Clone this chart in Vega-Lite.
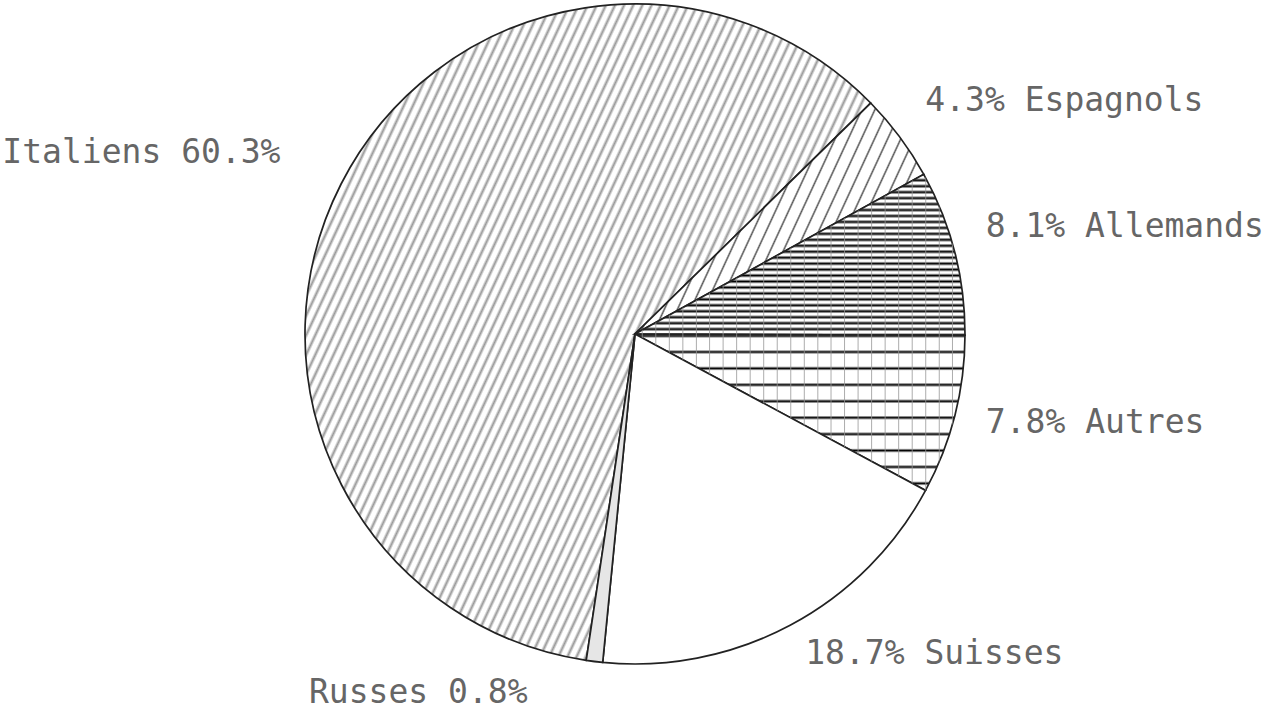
{
"$schema": "https://vega.github.io/schema/vega-lite/v6.json",
"width": 1270,
"height": 668,
"autosize": {"type": "none"},
"padding": {"left": 0, "top": 0, "right": 4, "bottom": 48},
"background": "white",
"config": {"view": {"stroke": null}},
"data": {"values": [
{"k": 1, "cat": "Italiens", "pct": 60.3, "label": "Italiens 60.3%"},
{"k": 2, "cat": "Espagnols", "pct": 4.3, "label": "4.3% Espagnols"},
{"k": 3, "cat": "Allemands", "pct": 8.1, "label": "8.1% Allemands"},
{"k": 4, "cat": "Autres", "pct": 7.8, "label": "7.8% Autres"},
{"k": 5, "cat": "Suisses", "pct": 18.7, "label": "18.7% Suisses"},
{"k": 6, "cat": "Russes", "pct": 0.8, "label": "Russes 0.8%"}
]},
"encoding": {
"theta": {"field": "pct", "type": "quantitative", "stack": true, "scale": {"domain": [0, 100], "range": [3.2899, 9.5731]}},
"order": {"field": "k", "type": "quantitative"}
},
"layer": [
{"mark": {"type": "arc", "outerRadius": 330, "stroke": "#222", "strokeWidth": 1.7},
"encoding": {"fill": {"condition": [
{"test": "datum.cat==='Italiens'", "value": {"gradient": "linear", "x1": 0, "y1": 0, "x2": 1, "y2": 0.54, "stops": [
{"offset":0,"color":"#999"},{"offset":0.0035,"color":"#fff"},{"offset":0.009,"color":"#fff"},
{"offset":0.0125,"color":"#999"},{"offset":0.016,"color":"#fff"},{"offset":0.0215,"color":"#fff"},
{"offset":0.025,"color":"#999"},{"offset":0.0285,"color":"#fff"},{"offset":0.034,"color":"#fff"},
{"offset":0.0375,"color":"#999"},{"offset":0.041,"color":"#fff"},{"offset":0.0465,"color":"#fff"},
{"offset":0.05,"color":"#999"},{"offset":0.0535,"color":"#fff"},{"offset":0.059,"color":"#fff"},
{"offset":0.0625,"color":"#999"},{"offset":0.066,"color":"#fff"},{"offset":0.0715,"color":"#fff"},
{"offset":0.075,"color":"#999"},{"offset":0.0785,"color":"#fff"},{"offset":0.084,"color":"#fff"},
{"offset":0.0875,"color":"#999"},{"offset":0.091,"color":"#fff"},{"offset":0.0965,"color":"#fff"},
{"offset":0.1,"color":"#999"},{"offset":0.1035,"color":"#fff"},{"offset":0.109,"color":"#fff"},
{"offset":0.1125,"color":"#999"},{"offset":0.116,"color":"#fff"},{"offset":0.1215,"color":"#fff"},
{"offset":0.125,"color":"#999"},{"offset":0.1285,"color":"#fff"},{"offset":0.134,"color":"#fff"},
{"offset":0.1375,"color":"#999"},{"offset":0.141,"color":"#fff"},{"offset":0.1465,"color":"#fff"},
{"offset":0.15,"color":"#999"},{"offset":0.1535,"color":"#fff"},{"offset":0.159,"color":"#fff"},
{"offset":0.1625,"color":"#999"},{"offset":0.166,"color":"#fff"},{"offset":0.1715,"color":"#fff"},
{"offset":0.175,"color":"#999"},{"offset":0.1785,"color":"#fff"},{"offset":0.184,"color":"#fff"},
{"offset":0.1875,"color":"#999"},{"offset":0.191,"color":"#fff"},{"offset":0.1965,"color":"#fff"},
{"offset":0.2,"color":"#999"},{"offset":0.2035,"color":"#fff"},{"offset":0.209,"color":"#fff"},
{"offset":0.2125,"color":"#999"},{"offset":0.216,"color":"#fff"},{"offset":0.2215,"color":"#fff"},
{"offset":0.225,"color":"#999"},{"offset":0.2285,"color":"#fff"},{"offset":0.234,"color":"#fff"},
{"offset":0.2375,"color":"#999"},{"offset":0.241,"color":"#fff"},{"offset":0.2465,"color":"#fff"},
{"offset":0.25,"color":"#999"},{"offset":0.2535,"color":"#fff"},{"offset":0.259,"color":"#fff"},
{"offset":0.2625,"color":"#999"},{"offset":0.266,"color":"#fff"},{"offset":0.2715,"color":"#fff"},
{"offset":0.275,"color":"#999"},{"offset":0.2785,"color":"#fff"},{"offset":0.284,"color":"#fff"},
{"offset":0.2875,"color":"#999"},{"offset":0.291,"color":"#fff"},{"offset":0.2965,"color":"#fff"},
{"offset":0.3,"color":"#999"},{"offset":0.3035,"color":"#fff"},{"offset":0.309,"color":"#fff"},
{"offset":0.3125,"color":"#999"},{"offset":0.316,"color":"#fff"},{"offset":0.3215,"color":"#fff"},
{"offset":0.325,"color":"#999"},{"offset":0.3285,"color":"#fff"},{"offset":0.334,"color":"#fff"},
{"offset":0.3375,"color":"#999"},{"offset":0.341,"color":"#fff"},{"offset":0.3465,"color":"#fff"},
{"offset":0.35,"color":"#999"},{"offset":0.3535,"color":"#fff"},{"offset":0.359,"color":"#fff"},
{"offset":0.3625,"color":"#999"},{"offset":0.366,"color":"#fff"},{"offset":0.3715,"color":"#fff"},
{"offset":0.375,"color":"#999"},{"offset":0.3785,"color":"#fff"},{"offset":0.384,"color":"#fff"},
{"offset":0.3875,"color":"#999"},{"offset":0.391,"color":"#fff"},{"offset":0.3965,"color":"#fff"},
{"offset":0.4,"color":"#999"},{"offset":0.4035,"color":"#fff"},{"offset":0.409,"color":"#fff"},
{"offset":0.4125,"color":"#999"},{"offset":0.416,"color":"#fff"},{"offset":0.4215,"color":"#fff"},
{"offset":0.425,"color":"#999"},{"offset":0.4285,"color":"#fff"},{"offset":0.434,"color":"#fff"},
{"offset":0.4375,"color":"#999"},{"offset":0.441,"color":"#fff"},{"offset":0.4465,"color":"#fff"},
{"offset":0.45,"color":"#999"},{"offset":0.4535,"color":"#fff"},{"offset":0.459,"color":"#fff"},
{"offset":0.4625,"color":"#999"},{"offset":0.466,"color":"#fff"},{"offset":0.4715,"color":"#fff"},
{"offset":0.475,"color":"#999"},{"offset":0.4785,"color":"#fff"},{"offset":0.484,"color":"#fff"},
{"offset":0.4875,"color":"#999"},{"offset":0.491,"color":"#fff"},{"offset":0.4965,"color":"#fff"},
{"offset":0.5,"color":"#999"},{"offset":0.5035,"color":"#fff"},{"offset":0.509,"color":"#fff"},
{"offset":0.5125,"color":"#999"},{"offset":0.516,"color":"#fff"},{"offset":0.5215,"color":"#fff"},
{"offset":0.525,"color":"#999"},{"offset":0.5285,"color":"#fff"},{"offset":0.534,"color":"#fff"},
{"offset":0.5375,"color":"#999"},{"offset":0.541,"color":"#fff"},{"offset":0.5465,"color":"#fff"},
{"offset":0.55,"color":"#999"},{"offset":0.5535,"color":"#fff"},{"offset":0.559,"color":"#fff"},
{"offset":0.5625,"color":"#999"},{"offset":0.566,"color":"#fff"},{"offset":0.5715,"color":"#fff"},
{"offset":0.575,"color":"#999"},{"offset":0.5785,"color":"#fff"},{"offset":0.584,"color":"#fff"},
{"offset":0.5875,"color":"#999"},{"offset":0.591,"color":"#fff"},{"offset":0.5965,"color":"#fff"},
{"offset":0.6,"color":"#999"},{"offset":0.6035,"color":"#fff"},{"offset":0.609,"color":"#fff"},
{"offset":0.6125,"color":"#999"},{"offset":0.616,"color":"#fff"},{"offset":0.6215,"color":"#fff"},
{"offset":0.625,"color":"#999"},{"offset":0.6285,"color":"#fff"},{"offset":0.634,"color":"#fff"},
{"offset":0.6375,"color":"#999"},{"offset":0.641,"color":"#fff"},{"offset":0.6465,"color":"#fff"},
{"offset":0.65,"color":"#999"},{"offset":0.6535,"color":"#fff"},{"offset":0.659,"color":"#fff"},
{"offset":0.6625,"color":"#999"},{"offset":0.666,"color":"#fff"},{"offset":0.6715,"color":"#fff"},
{"offset":0.675,"color":"#999"},{"offset":0.6785,"color":"#fff"},{"offset":0.684,"color":"#fff"},
{"offset":0.6875,"color":"#999"},{"offset":0.691,"color":"#fff"},{"offset":0.6965,"color":"#fff"},
{"offset":0.7,"color":"#999"},{"offset":0.7035,"color":"#fff"},{"offset":0.709,"color":"#fff"},
{"offset":0.7125,"color":"#999"},{"offset":0.716,"color":"#fff"},{"offset":0.7215,"color":"#fff"},
{"offset":0.725,"color":"#999"},{"offset":0.7285,"color":"#fff"},{"offset":0.734,"color":"#fff"},
{"offset":0.7375,"color":"#999"},{"offset":0.741,"color":"#fff"},{"offset":0.7465,"color":"#fff"},
{"offset":0.75,"color":"#999"},{"offset":0.7535,"color":"#fff"},{"offset":0.759,"color":"#fff"},
{"offset":0.7625,"color":"#999"},{"offset":0.766,"color":"#fff"},{"offset":0.7715,"color":"#fff"},
{"offset":0.775,"color":"#999"},{"offset":0.7785,"color":"#fff"},{"offset":0.784,"color":"#fff"},
{"offset":0.7875,"color":"#999"},{"offset":0.791,"color":"#fff"},{"offset":0.7965,"color":"#fff"},
{"offset":0.8,"color":"#999"},{"offset":0.8035,"color":"#fff"},{"offset":0.809,"color":"#fff"},
{"offset":0.8125,"color":"#999"},{"offset":0.816,"color":"#fff"},{"offset":0.8215,"color":"#fff"},
{"offset":0.825,"color":"#999"},{"offset":0.8285,"color":"#fff"},{"offset":0.834,"color":"#fff"},
{"offset":0.8375,"color":"#999"},{"offset":0.841,"color":"#fff"},{"offset":0.8465,"color":"#fff"},
{"offset":0.85,"color":"#999"},{"offset":0.8535,"color":"#fff"},{"offset":0.859,"color":"#fff"}
]}},
{"test": "datum.cat==='Espagnols'", "value": {"gradient": "linear", "x1": 0, "y1": 0, "x2": 1, "y2": 0.37, "stops": [
{"offset":0.015,"color":"#fff"},{"offset":0.02,"color":"#555"},{"offset":0.025,"color":"#fff"},
{"offset":0.055,"color":"#fff"},{"offset":0.06,"color":"#555"},{"offset":0.065,"color":"#fff"},
{"offset":0.095,"color":"#fff"},{"offset":0.1,"color":"#555"},{"offset":0.105,"color":"#fff"},
{"offset":0.135,"color":"#fff"},{"offset":0.14,"color":"#555"},{"offset":0.145,"color":"#fff"},
{"offset":0.175,"color":"#fff"},{"offset":0.18,"color":"#555"},{"offset":0.185,"color":"#fff"},
{"offset":0.215,"color":"#fff"},{"offset":0.22,"color":"#555"},{"offset":0.225,"color":"#fff"},
{"offset":0.255,"color":"#fff"},{"offset":0.26,"color":"#555"},{"offset":0.265,"color":"#fff"},
{"offset":0.295,"color":"#fff"},{"offset":0.3,"color":"#555"},{"offset":0.305,"color":"#fff"},
{"offset":0.335,"color":"#fff"},{"offset":0.34,"color":"#555"},{"offset":0.345,"color":"#fff"},
{"offset":0.375,"color":"#fff"},{"offset":0.38,"color":"#555"},{"offset":0.385,"color":"#fff"},
{"offset":0.415,"color":"#fff"},{"offset":0.42,"color":"#555"},{"offset":0.425,"color":"#fff"},
{"offset":0.455,"color":"#fff"},{"offset":0.46,"color":"#555"},{"offset":0.465,"color":"#fff"},
{"offset":0.495,"color":"#fff"},{"offset":0.5,"color":"#555"},{"offset":0.505,"color":"#fff"},
{"offset":0.535,"color":"#fff"},{"offset":0.54,"color":"#555"},{"offset":0.545,"color":"#fff"},
{"offset":0.575,"color":"#fff"},{"offset":0.58,"color":"#555"},{"offset":0.585,"color":"#fff"},
{"offset":0.615,"color":"#fff"},{"offset":0.62,"color":"#555"},{"offset":0.625,"color":"#fff"},
{"offset":0.655,"color":"#fff"},{"offset":0.66,"color":"#555"},{"offset":0.665,"color":"#fff"},
{"offset":0.695,"color":"#fff"},{"offset":0.7,"color":"#555"},{"offset":0.705,"color":"#fff"},
{"offset":0.735,"color":"#fff"},{"offset":0.74,"color":"#555"},{"offset":0.745,"color":"#fff"},
{"offset":0.775,"color":"#fff"},{"offset":0.78,"color":"#555"},{"offset":0.785,"color":"#fff"},
{"offset":0.815,"color":"#fff"},{"offset":0.82,"color":"#555"},{"offset":0.825,"color":"#fff"},
{"offset":0.855,"color":"#fff"},{"offset":0.86,"color":"#555"},{"offset":0.865,"color":"#fff"},
{"offset":0.895,"color":"#fff"},{"offset":0.9,"color":"#555"},{"offset":0.905,"color":"#fff"},
{"offset":0.935,"color":"#fff"},{"offset":0.94,"color":"#555"},{"offset":0.945,"color":"#fff"},
{"offset":0.975,"color":"#fff"},{"offset":0.98,"color":"#555"},{"offset":0.985,"color":"#fff"}
]}},
{"test": "datum.cat==='Allemands'", "value": {"gradient": "linear", "x1": 0, "y1": 0, "x2": 0, "y2": 1, "stops": [
{"offset":0,"color":"#000"},{"offset":0.014,"color":"#fff"},{"offset":0.023,"color":"#fff"},
{"offset":0.037,"color":"#000"},{"offset":0.051,"color":"#fff"},{"offset":0.06,"color":"#fff"},
{"offset":0.074,"color":"#000"},{"offset":0.088,"color":"#fff"},{"offset":0.097,"color":"#fff"},
{"offset":0.111,"color":"#000"},{"offset":0.125,"color":"#fff"},{"offset":0.134,"color":"#fff"},
{"offset":0.148,"color":"#000"},{"offset":0.162,"color":"#fff"},{"offset":0.171,"color":"#fff"},
{"offset":0.185,"color":"#000"},{"offset":0.199,"color":"#fff"},{"offset":0.208,"color":"#fff"},
{"offset":0.222,"color":"#000"},{"offset":0.236,"color":"#fff"},{"offset":0.245,"color":"#fff"},
{"offset":0.259,"color":"#000"},{"offset":0.273,"color":"#fff"},{"offset":0.282,"color":"#fff"},
{"offset":0.296,"color":"#000"},{"offset":0.31,"color":"#fff"},{"offset":0.319,"color":"#fff"},
{"offset":0.333,"color":"#000"},{"offset":0.347,"color":"#fff"},{"offset":0.356,"color":"#fff"},
{"offset":0.37,"color":"#000"},{"offset":0.384,"color":"#fff"},{"offset":0.393,"color":"#fff"},
{"offset":0.407,"color":"#000"},{"offset":0.421,"color":"#fff"},{"offset":0.43,"color":"#fff"},
{"offset":0.444,"color":"#000"},{"offset":0.458,"color":"#fff"},{"offset":0.467,"color":"#fff"},
{"offset":0.481,"color":"#000"},{"offset":0.495,"color":"#fff"},{"offset":0.504,"color":"#fff"},
{"offset":0.518,"color":"#000"},{"offset":0.532,"color":"#fff"},{"offset":0.541,"color":"#fff"},
{"offset":0.555,"color":"#000"},{"offset":0.569,"color":"#fff"},{"offset":0.578,"color":"#fff"},
{"offset":0.592,"color":"#000"},{"offset":0.606,"color":"#fff"},{"offset":0.615,"color":"#fff"},
{"offset":0.629,"color":"#000"},{"offset":0.643,"color":"#fff"},{"offset":0.652,"color":"#fff"},
{"offset":0.666,"color":"#000"},{"offset":0.68,"color":"#fff"},{"offset":0.689,"color":"#fff"},
{"offset":0.703,"color":"#000"},{"offset":0.717,"color":"#fff"},{"offset":0.726,"color":"#fff"},
{"offset":0.74,"color":"#000"},{"offset":0.754,"color":"#fff"},{"offset":0.763,"color":"#fff"},
{"offset":0.777,"color":"#000"},{"offset":0.791,"color":"#fff"},{"offset":0.8,"color":"#fff"},
{"offset":0.814,"color":"#000"},{"offset":0.828,"color":"#fff"},{"offset":0.837,"color":"#fff"},
{"offset":0.851,"color":"#000"},{"offset":0.865,"color":"#fff"},{"offset":0.874,"color":"#fff"},
{"offset":0.888,"color":"#000"},{"offset":0.902,"color":"#fff"},{"offset":0.911,"color":"#fff"},
{"offset":0.925,"color":"#000"},{"offset":0.939,"color":"#fff"},{"offset":0.948,"color":"#fff"},
{"offset":0.962,"color":"#000"},{"offset":0.976,"color":"#fff"},{"offset":0.985,"color":"#fff"},
{"offset":0.999,"color":"#000"}
]}},
{"test": "datum.cat==='Autres'", "value": {"gradient": "linear", "x1": 0, "y1": 0, "x2": 0, "y2": 1, "stops": [
{"offset":0,"color":"#fff"},{"offset":0.012,"color":"#000"},{"offset":0.026,"color":"#fff"},
{"offset":0.101,"color":"#fff"},{"offset":0.115,"color":"#000"},{"offset":0.129,"color":"#fff"},
{"offset":0.206,"color":"#fff"},{"offset":0.22,"color":"#000"},{"offset":0.234,"color":"#fff"},
{"offset":0.311,"color":"#fff"},{"offset":0.325,"color":"#000"},{"offset":0.339,"color":"#fff"},
{"offset":0.416,"color":"#fff"},{"offset":0.43,"color":"#000"},{"offset":0.444,"color":"#fff"},
{"offset":0.521,"color":"#fff"},{"offset":0.535,"color":"#000"},{"offset":0.549,"color":"#fff"},
{"offset":0.626,"color":"#fff"},{"offset":0.64,"color":"#000"},{"offset":0.654,"color":"#fff"},
{"offset":0.731,"color":"#fff"},{"offset":0.745,"color":"#000"},{"offset":0.759,"color":"#fff"},
{"offset":0.836,"color":"#fff"},{"offset":0.85,"color":"#000"},{"offset":0.864,"color":"#fff"},
{"offset":0.941,"color":"#fff"},{"offset":0.955,"color":"#000"},{"offset":0.969,"color":"#fff"}
]}},
{"test": "datum.cat==='Russes'", "value": "#e6e6e6"}
], "value": "#ffffff"}}},
{"mark": {"type": "arc", "outerRadius": 330, "strokeWidth": 0},
"encoding": {"fill": {"condition": {"test": "datum.cat==='Allemands' || datum.cat==='Autres'", "value": {"gradient": "linear", "x1": 0, "y1": 0, "x2": 1, "y2": 0, "stops": [
{"offset":0.019,"color":"rgba(150,150,150,0)"},{"offset":0.022,"color":"rgba(150,150,150,0.8)"},{"offset":0.025,"color":"rgba(150,150,150,0)"},
{"offset":0.06,"color":"rgba(150,150,150,0)"},{"offset":0.063,"color":"rgba(150,150,150,0.8)"},{"offset":0.066,"color":"rgba(150,150,150,0)"},
{"offset":0.101,"color":"rgba(150,150,150,0)"},{"offset":0.104,"color":"rgba(150,150,150,0.8)"},{"offset":0.107,"color":"rgba(150,150,150,0)"},
{"offset":0.142,"color":"rgba(150,150,150,0)"},{"offset":0.145,"color":"rgba(150,150,150,0.8)"},{"offset":0.148,"color":"rgba(150,150,150,0)"},
{"offset":0.183,"color":"rgba(150,150,150,0)"},{"offset":0.186,"color":"rgba(150,150,150,0.8)"},{"offset":0.189,"color":"rgba(150,150,150,0)"},
{"offset":0.223,"color":"rgba(150,150,150,0)"},{"offset":0.226,"color":"rgba(150,150,150,0.8)"},{"offset":0.229,"color":"rgba(150,150,150,0)"},
{"offset":0.264,"color":"rgba(150,150,150,0)"},{"offset":0.267,"color":"rgba(150,150,150,0.8)"},{"offset":0.27,"color":"rgba(150,150,150,0)"},
{"offset":0.305,"color":"rgba(150,150,150,0)"},{"offset":0.308,"color":"rgba(150,150,150,0.8)"},{"offset":0.311,"color":"rgba(150,150,150,0)"},
{"offset":0.346,"color":"rgba(150,150,150,0)"},{"offset":0.349,"color":"rgba(150,150,150,0.8)"},{"offset":0.352,"color":"rgba(150,150,150,0)"},
{"offset":0.387,"color":"rgba(150,150,150,0)"},{"offset":0.39,"color":"rgba(150,150,150,0.8)"},{"offset":0.393,"color":"rgba(150,150,150,0)"},
{"offset":0.428,"color":"rgba(150,150,150,0)"},{"offset":0.431,"color":"rgba(150,150,150,0.8)"},{"offset":0.434,"color":"rgba(150,150,150,0)"},
{"offset":0.469,"color":"rgba(150,150,150,0)"},{"offset":0.472,"color":"rgba(150,150,150,0.8)"},{"offset":0.475,"color":"rgba(150,150,150,0)"},
{"offset":0.51,"color":"rgba(150,150,150,0)"},{"offset":0.513,"color":"rgba(150,150,150,0.8)"},{"offset":0.516,"color":"rgba(150,150,150,0)"},
{"offset":0.551,"color":"rgba(150,150,150,0)"},{"offset":0.554,"color":"rgba(150,150,150,0.8)"},{"offset":0.557,"color":"rgba(150,150,150,0)"},
{"offset":0.591,"color":"rgba(150,150,150,0)"},{"offset":0.594,"color":"rgba(150,150,150,0.8)"},{"offset":0.597,"color":"rgba(150,150,150,0)"},
{"offset":0.632,"color":"rgba(150,150,150,0)"},{"offset":0.635,"color":"rgba(150,150,150,0.8)"},{"offset":0.638,"color":"rgba(150,150,150,0)"},
{"offset":0.673,"color":"rgba(150,150,150,0)"},{"offset":0.676,"color":"rgba(150,150,150,0.8)"},{"offset":0.679,"color":"rgba(150,150,150,0)"},
{"offset":0.714,"color":"rgba(150,150,150,0)"},{"offset":0.717,"color":"rgba(150,150,150,0.8)"},{"offset":0.72,"color":"rgba(150,150,150,0)"},
{"offset":0.755,"color":"rgba(150,150,150,0)"},{"offset":0.758,"color":"rgba(150,150,150,0.8)"},{"offset":0.761,"color":"rgba(150,150,150,0)"},
{"offset":0.796,"color":"rgba(150,150,150,0)"},{"offset":0.799,"color":"rgba(150,150,150,0.8)"},{"offset":0.802,"color":"rgba(150,150,150,0)"},
{"offset":0.837,"color":"rgba(150,150,150,0)"},{"offset":0.84,"color":"rgba(150,150,150,0.8)"},{"offset":0.843,"color":"rgba(150,150,150,0)"},
{"offset":0.878,"color":"rgba(150,150,150,0)"},{"offset":0.881,"color":"rgba(150,150,150,0.8)"},{"offset":0.884,"color":"rgba(150,150,150,0)"},
{"offset":0.919,"color":"rgba(150,150,150,0)"},{"offset":0.922,"color":"rgba(150,150,150,0.8)"},{"offset":0.925,"color":"rgba(150,150,150,0)"},
{"offset":0.959,"color":"rgba(150,150,150,0)"},{"offset":0.962,"color":"rgba(150,150,150,0.8)"},{"offset":0.965,"color":"rgba(150,150,150,0)"}
]}}, "value": "transparent"}}},
{"mark": {"type": "text", "radius": 362, "align": "left", "baseline": "bottom", "font": "DejaVu Sans Mono", "fontSize": 33, "fill": "#666"},
"encoding": {"text": {"condition": {"test": "datum.cat==='Espagnols' || datum.cat==='Allemands'", "field": "label", "type": "nominal"}, "value": ""}}},
{"mark": {"type": "text", "radius": 362, "align": "left", "baseline": "middle", "font": "DejaVu Sans Mono", "fontSize": 33, "fill": "#666"},
"encoding": {"text": {"condition": {"test": "datum.cat==='Autres' || datum.cat==='Suisses'", "field": "label", "type": "nominal"}, "value": ""}}},
{"mark": {"type": "text", "radius": 398, "align": "right", "baseline": "middle", "font": "DejaVu Sans Mono", "fontSize": 33, "fill": "#666"},
"encoding": {"text": {"condition": {"test": "datum.cat==='Italiens'", "field": "label", "type": "nominal"}, "value": ""}}},
{"mark": {"type": "text", "radius": 362, "dx": -63, "align": "right", "baseline": "middle", "font": "DejaVu Sans Mono", "fontSize": 33, "fill": "#666"},
"encoding": {"text": {"condition": {"test": "datum.cat==='Russes'", "field": "label", "type": "nominal"}, "value": ""}}}
]
}
